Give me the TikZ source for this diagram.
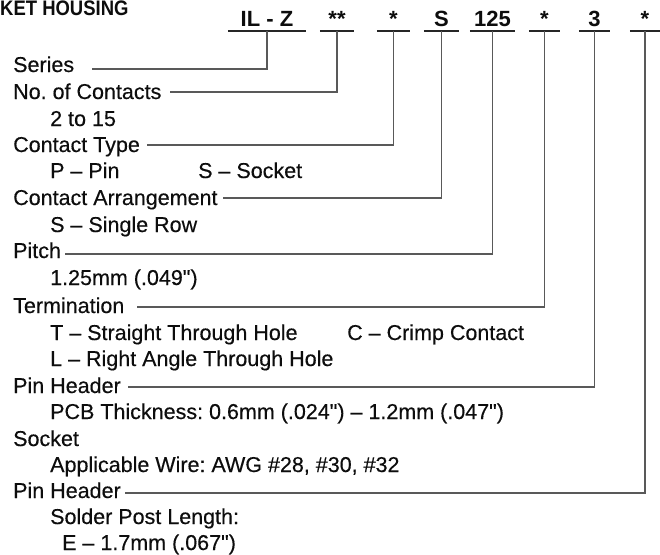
\documentclass[tikz,border=0pt]{standalone}
\usepackage{fontspec}
\setmainfont{Liberation Sans}
\newfontfamily\lblfont[FakeBold=0.35]{Liberation Sans}
\newfontfamily\ttlfont[FakeStretch=0.88]{Liberation Sans}
\frenchspacing
\newcommand{\qd}{\textquotedbl}
\begin{document}
\begin{tikzpicture}[x=1pt,y=-1pt,
  lbl/.style={anchor=base west,inner sep=0pt,font=\lblfont\fontsize{21.5}{26}\selectfont,text=black!95},
  code/.style={anchor=base,inner sep=0pt,font=\bfseries\fontsize{22}{26}\selectfont,text=black!95},
  titletext/.style={anchor=base west,inner sep=0pt,font=\ttlfont\bfseries\fontsize{21}{24}\selectfont,text=black!95},
  uline/.style={line width=1.8pt,black!85},
  conn/.style={line width=1.2pt,black!65}]
\useasboundingbox (0,0) rectangle (660,554);

% title (cut at the left edge in the reference)
\node[titletext] (title) at (0,15.5) {KET HOUSING};

% part number codes
\node[code,minimum width=78pt] (c1) at (267,26) {IL - Z};
\node[code,minimum width=34pt] (c2) at (337,26) {**};
\node[code,minimum width=33pt] (c3) at (393.5,26) {*};
\node[code,minimum width=35pt] (c4) at (441.5,26) {S};
\node[code,minimum width=45pt] (c5) at (492.5,26) {125};
\node[code,minimum width=31pt] (c6) at (544.5,26) {*};
\node[code,minimum width=31pt] (c7) at (594.5,26) {3};
\node[code,minimum width=30pt] (c8) at (645,26) {*};

\foreach \c in {c1,c2,c3,c4,c5,c6,c7,c8}
  \draw[uline] ([yshift=-5pt]\c.base west) -- ([yshift=-5pt]\c.base east);

% labels
\node[lbl] (series) at (13,72) {Series};
\node[lbl] (contacts) at (13,99) {No. of Contacts};
\node[lbl] (range) at (50,126) {2 to 15};
\node[lbl] (ctype) at (13,152) {Contact Type};
\node[lbl] (pin) at (50,178) {P – Pin};
\node[lbl] (sock) at (198,178) {S – Socket};
\node[lbl] (carr) at (13,205) {Contact Arrangement};
\node[lbl] (single) at (50,232) {S – Single Row};
\node[lbl] (pitch) at (13,258) {Pitch};
\node[lbl] (pitchv) at (50,285) {1.25mm (.049\qd)};
\node[lbl] (term) at (13,313) {Termination};
\node[lbl] (tst) at (50,340) {T – Straight Through Hole};
\node[lbl] (crimp) at (347,340) {C – Crimp Contact};
\node[lbl] (lra) at (50,366) {L – Right Angle Through Hole};
\node[lbl] (ph1) at (13,393) {Pin Header};
\node[lbl] (pcb) at (50,419) {PCB Thickness: 0.6mm (.024\qd) – 1.2mm (.047\qd)};
\node[lbl] (socket) at (13,446) {Socket};
\node[lbl] (awg) at (50,472) {Applicable Wire: AWG \#28, \#30, \#32};
\node[lbl] (ph2) at (13,498) {Pin Header};
\node[lbl] (solder) at (50,524) {Solder Post Length:};
\node[lbl] (elen) at (62,550) {E – 1.7mm (.067\qd)};

% connector ends
\coordinate (e1) at (92,69);
\coordinate (e2) at (170,92);
\coordinate (e3) at (147,145);
\coordinate (e4) at (223,198);
\coordinate (e5) at (65,254);
\coordinate (e6) at (137,307);
\coordinate (e7) at (128,387);
\coordinate (e8) at (125,493);

\draw[conn] ([yshift=-5pt]c1.base) |- (e1);
\draw[conn] ([yshift=-5pt]c2.base) |- (e2);
\draw[conn] ([yshift=-5pt]c3.base) |- (e3);
\draw[conn] ([yshift=-5pt]c4.base) |- (e4);
\draw[conn] ([yshift=-5pt]c5.base) |- (e5);
\draw[conn] ([yshift=-5pt]c6.base) |- (e6);
\draw[conn] ([yshift=-5pt]c7.base) |- (e7);
\draw[conn] ([yshift=-5pt]c8.base) |- (e8);
\end{tikzpicture}
\end{document}
